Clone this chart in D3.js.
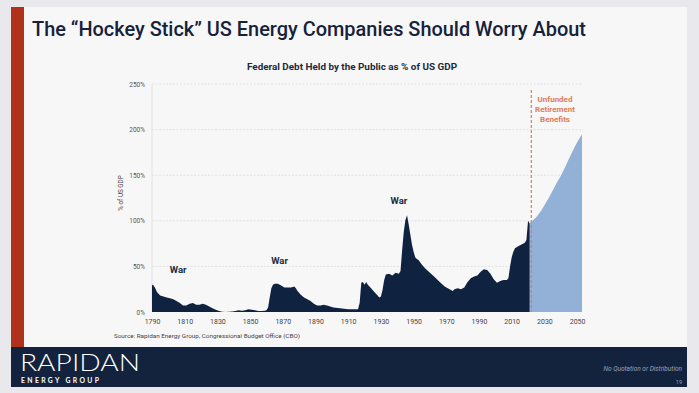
<!DOCTYPE html>
<html><head><meta charset="utf-8">
<script src="https://cdn.jsdelivr.net/npm/d3@7"></script>
<style>html,body{margin:0;padding:0;background:#e8e8ed;}svg{display:block;}</style>
</head><body>
<script>
const histYears = [1790,1791,1792,1793,1794,1795,1797,1799,1801,1803,1805,1807,1809,1811,1813,1815,1817,1819,1821,1823,1825,1827,1829,1831,1833,1835,1837,1839,1841,1843,1845,1847,1849,1851,1853,1855,1857,1859,1860,1861,1862,1863,1864,1865,1867,1869,1871,1873,1875,1877,1878,1879,1881,1883,1885,1887,1889,1891,1893,1895,1897,1899,1901,1905,1910,1916,1917,1918,1919,1920,1921,1922,1924,1926,1928,1929,1930,1931,1932,1933,1935,1937,1939,1941,1942,1943,1944,1945,1946,1947,1948,1949,1950,1951,1952,1953,1955,1957,1960,1963,1966,1969,1972,1974,1975,1977,1979,1981,1983,1985,1987,1989,1991,1993,1995,1997,1999,2001,2003,2005,2007,2008,2009,2010,2011,2012,2014,2016,2018,2019,2020,2021];
const histValues = [30,29,26,22,20,18,17,16,15,14,12,10,7,7,9,10,8,8,9,8,6,4,2.5,1,0.3,0,0.3,0.5,1,2,1.5,2,3,2.5,2,1,1,1.5,2,5,16,26,30,31,31,29,27,27,27,28,26,23,19,16,14,12,9,7,7,8,7,6,5,4,3,3,10,32,33,30,33,30,26,22,18,16,17,24,35,41,42,40,43,42,45,68,88,101,106,96,85,74,66,60,58,57,52,48,43,38,33,28,25,23,25,26,25,27,33,37,39,40,44,47,46,42,36,32,34,35,35,37,50,60,66,70,72,74,76,79,100,97];
const projYears = [2021,2022,2025,2028,2030,2033,2035,2038,2040,2043,2045,2048,2050,2053];
const projValues = [97,99,104,111,117,126,133,143,149,160,168,179,186,195];
const xTicks = [1790,1810,1830,1850,1870,1890,1910,1930,1950,1970,1990,2010,2030,2050];
const yTicks = [0,50,100,150,200,250];
const warLabels = [{year:1806,value:43,text:"War"},{year:1868,value:53,text:"War"},{year:1941,value:118,text:"War"}];
const projStartYear = 2022;
const annotationLines = ["Unfunded","Retirement","Benefits"];

const W=699,H=393;
const svg=d3.select("body").append("svg").attr("width",W).attr("height",H);
// card
svg.append("rect").attr("x",11).attr("y",7).attr("width",676).attr("height",380).attr("fill","#f7f7f8");
svg.append("rect").attr("x",11).attr("y",7).attr("width",13).attr("height",340).attr("fill","#b0321a");
svg.append("rect").attr("x",11).attr("y",347).attr("width",676).attr("height",40).attr("fill","#13223d");

svg.append("text").attr("x",32).attr("y",36).attr("font-family","Roboto, sans-serif").attr("font-weight",500)
  .attr("font-size",19.5).attr("fill","#16213a").attr("textLength",554).attr("lengthAdjust","spacingAndGlyphs")
  .text("The \u201CHockey Stick\u201D US Energy Companies Should Worry About");

svg.append("text").attr("x",352).attr("y",70).attr("text-anchor","middle").attr("font-family","Roboto, sans-serif")
  .attr("font-weight",700).attr("font-size",9.5).attr("fill","#1d2a3d").attr("textLength",210).attr("lengthAdjust","spacingAndGlyphs")
  .text("Federal Debt Held by the Public as % of US GDP");

const x=d3.scaleLinear().domain([1790,2053]).range([152,582]);
const y=d3.scaleLinear().domain([0,250]).range([312,84]);

// gridlines
const g=svg.append("g");
g.selectAll("line.grid").data(yTicks.filter(d=>d>0)).join("line")
  .attr("x1",152).attr("x2",583).attr("y1",d=>y(d)).attr("y2",d=>y(d))
  .attr("stroke","#dcdcdf").attr("stroke-width",0.8).attr("stroke-dasharray","2,1.5");
g.append("line").attr("x1",152).attr("x2",152).attr("y1",y(250)).attr("y2",y(0)).attr("stroke","#dcdcdf").attr("stroke-width",0.8);

// y axis
const yAxis=d3.axisLeft(y).tickValues(yTicks).tickFormat(d=>d+"%").tickSize(0).tickPadding(7);
const ya=svg.append("g").attr("transform","translate(152,0)").call(yAxis);
ya.select(".domain").remove();
ya.selectAll("text").attr("font-family","Roboto, sans-serif").attr("font-size",6.5).attr("fill","#555");

// x axis
const xAxis=d3.axisBottom(x).tickValues(xTicks).tickFormat(d3.format("d")).tickSize(0).tickPadding(6);
const xa=svg.append("g").attr("transform","translate(0,313)").call(xAxis);
xa.select(".domain").remove();
xa.selectAll("text").attr("font-family","Roboto, sans-serif").attr("font-size",7).attr("fill","#444");

svg.append("text").attr("transform","translate(123,193) rotate(-90)").attr("text-anchor","middle")
  .attr("font-family","Roboto, sans-serif").attr("font-size",6.3).attr("fill","#444").text("% of US GDP");

// areas
const area=d3.area().x(d=>x(d[0])).y0(y(0)).y1(d=>y(d[1]));
svg.append("path").datum(projYears.map((d,i)=>[d,projValues[i]])).attr("d",area).attr("fill","#93b1d6");
svg.append("path").datum(histYears.map((d,i)=>[d,histValues[i]])).attr("d",area).attr("fill","#0f2340");

// dashed line
svg.append("line").attr("x1",x(projStartYear)).attr("x2",x(projStartYear)).attr("y1",90).attr("y2",y(0))
  .attr("stroke","#e07b54").attr("stroke-width",1.2).attr("stroke-dasharray","3,2");
svg.append("g").selectAll("text").data(annotationLines).join("text")
  .attr("x",555).attr("y",(d,i)=>102+i*10).attr("text-anchor","middle")
  .attr("font-family","Roboto, sans-serif").attr("font-weight",700).attr("font-size",8).attr("fill","#e07b54").text(d=>d);

// war labels
svg.append("g").selectAll("text").data(warLabels).join("text")
  .attr("x",d=>x(d.year)).attr("y",d=>y(d.value)).attr("text-anchor","middle")
  .attr("font-family","Roboto, sans-serif").attr("font-weight",700).attr("font-size",9.5).attr("fill","#1d2a3d").text(d=>d.text);

svg.append("text").attr("x",114).attr("y",338).attr("font-family","Roboto, sans-serif").attr("font-size",5.8)
  .attr("fill","#444").attr("textLength",186).attr("lengthAdjust","spacingAndGlyphs")
  .text("Source: Rapidan Energy Group, Congressional Budget Office (CBO)");

// footer
svg.append("text").attr("x",20).attr("y",371).attr("font-family","Lato, 'Open Sans', sans-serif").attr("font-weight",300)
  .attr("font-size",24).attr("fill","#ffffff").attr("textLength",120).attr("lengthAdjust","spacingAndGlyphs").text("RAPIDAN");
svg.append("text").attr("x",21).attr("y",383).attr("font-family","Lato, 'Open Sans', sans-serif").attr("font-weight",700)
  .attr("font-size",6.8).attr("fill","#ffffff").attr("textLength",78).attr("lengthAdjust","spacing").text("ENERGY GROUP");
svg.append("text").attr("x",682).attr("y",371).attr("text-anchor","end").attr("font-family","Roboto, sans-serif").attr("font-style","italic")
  .attr("font-size",6.5).attr("fill","#9aa4b8").text("No Quotation or Distribution");
svg.append("text").attr("x",682).attr("y",384).attr("text-anchor","end").attr("font-family","Roboto, sans-serif")
  .attr("font-size",5.5).attr("fill","#9aa4b8").text("19");
</script>
</body></html>
